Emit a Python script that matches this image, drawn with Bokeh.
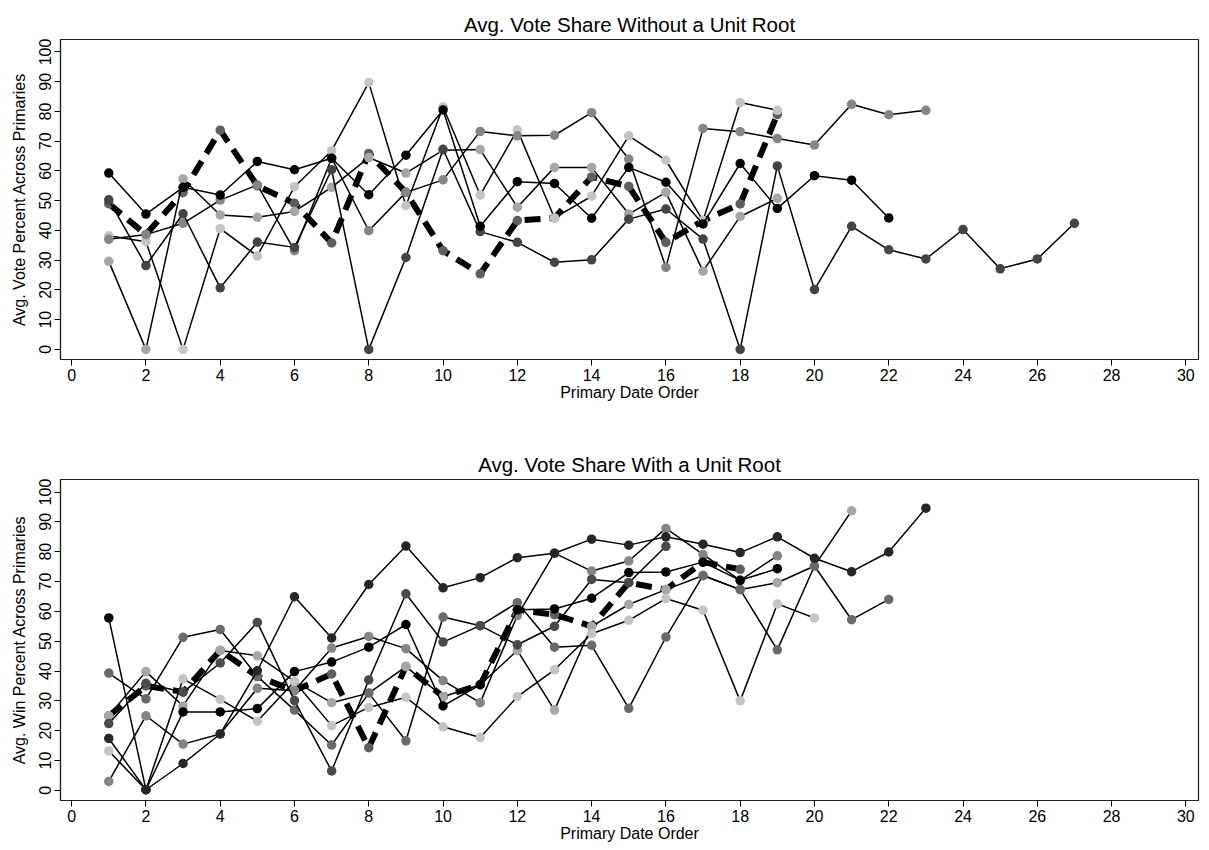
from bokeh.plotting import figure
from bokeh.layouts import column
from bokeh.models import Range1d, FixedTicker
from bokeh.embed import file_html
from bokeh.resources import INLINE

# ---------------- data: top panel (Avg. Vote Share Without a Unit Root) -------------
top_a = [50.3, 28.2, 45.6, 20.7, 36.1, 34.3, 60.4, 0, 30.9, 67.3, 39.6, 36, 29.3, 30.1,
         43.8, 47.2, 37.1, 0, 61.7, 20.1, 41.4, 33.5, 30.4, 40.3, 27.1, 30.4, 42.4]
top_b = [37, 38.6, 42.4, 50.2, 55.3, 33.2, 64.3, 39.9, 52.8, 57, 73.3, 71.8, 72, 79.6,
         64, 27.6, 74.3, 73.2, 70.9, 68.7, 82.4, 78.9, 80.4]
top_c = [59.3, 45.5, 54.5, 51.9, 63.2, 60.4, 64.3, 52, 65.3, 80.5, 41.4, 56.4, 55.8, 44.1,
         61.2, 56.2, 42.2, 62.5, 47.4, 58.4, 56.9, 44.2]
top_d = [38.2, 36.2, 0, 40.6, 31.4, 54.7, 66.8, 89.7, 48.3, 81.5, 51.9, 73.8, 44.2, 51.5,
         71.8, 63.6, 43.3, 83, 80.4]
top_e = [29.6, 0, 57.3, 45.2, 44.4, 46.4, 54.5, 64.5, 59.3, 67, 67.2, 47.8, 61.2, 61.2,
         45.5, 52.8, 26.3, 44.7, 50.8]
top_mean = [49, 38.6, 52.8, 73.7, 55, 49.1, 35.8, 65.9, 52.8, 33.2, 25.4, 43.3, 44.2, 58,
            54.8, 36, 43.3, 48.9, 79]

# ---------------- data: bottom panel (Avg. Vote Share With a Unit Root) -------------
bot_1 = [17.4, 0.2, 9, 18.9, 40.1, 64.9, 51.1, 69, 81.9, 67.9, 71.3, 78, 79.5, 84.2, 82.2,
         85, 82.5, 79.7, 85, 77.8, 73.3, 79.9, 94.6]
bot_a = [57.8, 0.2, 26.3, 26.3, 27.4, 39.8, 43, 48, 55.6, 28.3, 35.4, 60.5, 60.8, 64.4, 73,
         73.2, 76.5, 70.4, 74.3]
bot_b = [39.3, 30.7, 51.3, 53.9, 38.2, 26.9, 15.2, 32.6, 16.6, 58.1, 55.2, 62.9, 48, 48.6,
         27.5, 51.4, 72, 67.3, 47.1, 75.2, 57.2, 64]
bot_c = [22.4, 35.9, 32.9, 42.7, 56.3, 30.1, 6.5, 37, 65.9, 49.7, 55.2, 48.8, 55, 70.7, 69.6,
         81.8]
bot_d = [13.2, 0.2, 37.4, 30.5, 23.2, 36.5, 21.7, 27.8, 31.2, 21.3, 17.7, 31.4, 40.4, 52.5,
         57, 64.3, 60.4, 30, 62.5, 57.8]
bot_e = [3, 25, 15.5, 18.9, 34.2, 33.4, 47.7, 51.6, 47.5, 36.8, 29.4, 58.6, 79.5, 73.5, 76.9,
         87.8, 79.1, 70.4, 78.6]
bot_f = [25, 39.8, 28.3, 46.9, 45.1, 36.5, 29.4, 32.6, 41.5, 31.4, 35.4, 46.9, 26.9, 55, 62.3,
         67.3, 72, 67.3, 69.6, 75.2, 93.7]
bot_mean = [25, 35, 33, 46.9, 38.2, 33.4, 39, 14.3, 41.5, 31.4, 35.4, 60.5, 58.9, 55, 69.6,
            67.3, 76.5, 74.1]

x_ticks = list(range(0, 31, 2))
y_ticks = list(range(0, 101, 10))

FONT = "Liberation Sans"


def panel(title, ylabel, series, colors, mean, mean_color, top_border, frame_h, bottom_border):
    p = figure(frame_width=1138, frame_height=frame_h, output_backend="svg",
               toolbar_location=None, x_range=Range1d(-0.3, 30.34),
               y_range=Range1d(-3.4, 104.2), min_border_left=60, min_border_right=11,
               min_border_top=top_border, min_border_bottom=bottom_border)
    p.title.text = title
    p.title.align = "center"
    p.title.text_font = FONT
    p.title.text_font_size = "20.5px"
    p.title.text_font_style = "normal"
    p.title.text_color = "black"
    p.title.standoff = 7
    p.grid.visible = False
    p.outline_line_color = "#222222"
    p.outline_line_width = 1.2
    p.background_fill_color = "white"
    p.border_fill_color = "white"

    # dashed mean series first
    xm = list(range(1, len(mean) + 1))
    p.line(xm, mean, line_color="black", line_width=6, line_dash="16 9")
    p.scatter(xm, mean, size=9.5, fill_color=mean_color, line_color=None)

    for vals, col in zip(series, colors):
        xs = list(range(1, len(vals) + 1))
        p.line(xs, vals, line_color="black", line_width=1.5)
        p.scatter(xs, vals, size=9.5, fill_color=col, line_color=None)

    xa = p.xaxis[0]
    xa.ticker = FixedTicker(ticks=x_ticks)
    xa.axis_label = "Primary Date Order"
    xa.axis_label_standoff = 0
    ya = p.yaxis[0]
    ya.ticker = FixedTicker(ticks=y_ticks)
    ya.axis_label = ylabel
    ya.axis_label_standoff = 9
    ya.major_label_orientation = "vertical"
    for ax in (xa, ya):
        ax.axis_label_text_font = FONT
        ax.axis_label_text_font_size = "16px"
        ax.axis_label_text_font_style = "normal"
        ax.axis_label_text_color = "black"
        ax.major_label_text_font = FONT
        ax.major_label_text_font_size = "16px"
        ax.major_label_text_color = "black"
        ax.major_tick_out = 6
        ax.major_tick_in = 0
        ax.minor_tick_out = 0
        ax.minor_tick_in = 0
        ax.major_tick_line_color = "black"
        ax.axis_line_color = "#222222"
        ax.axis_line_width = 1.2
        ax.major_label_standoff = 3
    return p


top_series = [top_e, top_d, top_b, top_a, top_c]
top_colors = ["#a6a6a6", "#c4c4c4", "#858585", "#444444", "#000000"]
p1 = panel("Avg. Vote Share Without a Unit Root", "Avg. Vote Percent Across Primaries",
           top_series, top_colors, top_mean, "#5e5e5e", 39, 320, 81)

bot_series = [bot_e, bot_f, bot_d, bot_b, bot_c, bot_a, bot_1]
bot_colors = ["#858585", "#a6a6a6", "#c4c4c4", "#6a6a6a", "#4a4a4a", "#000000", "#262626"]
p2 = panel("Avg. Vote Share With a Unit Root", "Avg. Win Percent Across Primaries",
           bot_series, bot_colors, bot_mean, "#5e5e5e", 39, 321, 50)

layout = column(p1, p2, spacing=0)
open("out.html", "w").write(file_html(layout, INLINE))
